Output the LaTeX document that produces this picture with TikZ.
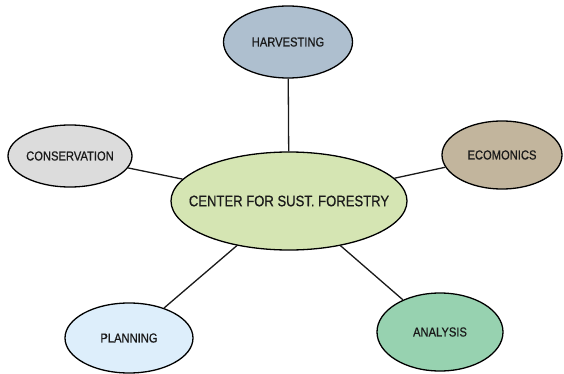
\documentclass[tikz,border=0pt]{standalone}
\usepackage{fontspec}
\setmainfont{Liberation Sans}[FakeStretch=0.86,FakeBold=0.6]
\usetikzlibrary{shapes.geometric}
\definecolor{cgreen}{HTML}{D5E5B3}
\definecolor{charv}{HTML}{AEBFCF}
\definecolor{ccons}{HTML}{DCDCDC}
\definecolor{cecon}{HTML}{C2B59D}
\definecolor{cplan}{HTML}{DDEEFB}
\definecolor{canal}{HTML}{97D2B0}
\definecolor{ctext}{HTML}{1A1A1A}
\newcommand{\zw}[1]{\makebox[0pt]{#1}}
\begin{document}
\begin{tikzpicture}[x=1pt,y=-1pt,
  bubble/.style={ellipse, draw=black, line width=1.3pt, inner sep=0pt, text=ctext, font=\fontsize{13}{15}\selectfont},
  link/.style={draw=black!90, line width=1.3pt}]
\useasboundingbox (0,0) rectangle (564,374);
\node[bubble, fill=cgreen, minimum width=236pt, minimum height=98pt, font=\fontsize{15.2}{17}\selectfont] (c) at (289,201) {\zw{CENTER FOR SUST. FORESTRY}};
\node[bubble, fill=charv, minimum width=129pt, minimum height=72pt] (h) at (288,42) {\zw{HARVESTING}};
\node[bubble, fill=ccons, minimum width=124pt, minimum height=62pt] (co) at (70,156) {\zw{CONSERVATION}};
\node[bubble, fill=cecon, minimum width=120pt, minimum height=68pt] (e) at (502,155) {\zw{ECOMONICS}};
\node[bubble, fill=cplan, minimum width=128pt, minimum height=70pt] (p) at (129,338) {\zw{PLANNING}};
\node[bubble, fill=canal, minimum width=126pt, minimum height=78pt] (a) at (440,332) {\zw{ANALYSIS}};
\draw[link] (h) -- (c);
\draw[link] (co) -- (c);
\draw[link] (e) -- (c);
\draw[link] (p) -- (c);
\draw[link] (a) -- (c);
\end{tikzpicture}
\end{document}
